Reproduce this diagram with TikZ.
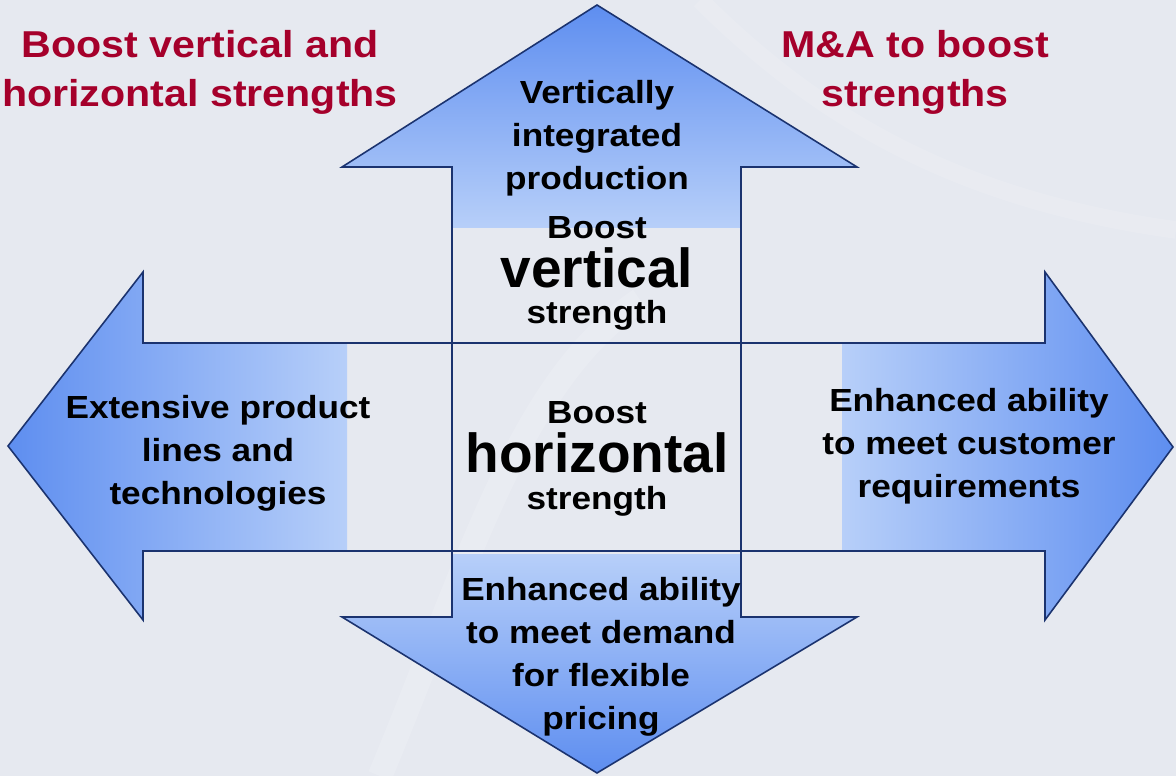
\documentclass[tikz,border=0pt]{standalone}
\usepackage{fontspec}
\setmainfont{Liberation Sans}
\newfontfamily\widefont[FakeStretch=1.1]{Liberation Sans}
\usetikzlibrary{positioning}
\definecolor{PaleSky}{HTML}{E6E9F0}
\definecolor{ArrowBlue}{HTML}{5E8EF0}
\definecolor{ArrowPale}{HTML}{B7CFF9}
\definecolor{EdgeNavy}{HTML}{1B336F}
\definecolor{Crimson}{HTML}{A5002B}

\begin{document}
\begin{tikzpicture}[x=0.02cm, y=-0.02cm,
    edge/.style={draw=EdgeNavy, line width=0.9pt, line join=miter},
    body/.style={font=\widefont\fontsize{18.2}{24.5}\selectfont\bfseries,
                 align=center, inner sep=0pt},
    big/.style={font=\fontsize{31.3}{34}\selectfont\bfseries, inner sep=0pt, anchor=base},
    small/.style={font=\widefont\fontsize{18.2}{24.5}\selectfont\bfseries, inner sep=0pt, anchor=base},
    title/.style={font=\widefont\fontsize{21.3}{27.9}\selectfont\bfseries,
                  align=center, text=Crimson, inner sep=0pt}
]
    % Backdrop
    \fill[PaleSky] (0,0) rectangle (1176,776);
    \useasboundingbox (0,0) rectangle (1176,776);
    \draw[white, opacity=0.15, line width=14pt]
        (380,776) .. controls (470,560) and (520,380) .. (640,300);
    \draw[white, opacity=0.12, line width=10pt]
        (700,0) .. controls (820,120) and (960,200) .. (1176,230);

    % Faded fills of the four arrows
    \begin{scope}
        \clip (597,5) -- (857,167) -- (741,167) -- (741,551) -- (452,551)
              -- (452,167) -- (342,167) -- cycle;
        \shade[top color=ArrowBlue, bottom color=ArrowPale] (342,5) rectangle (857,228);
    \end{scope}
    \begin{scope}
        \clip (8,446) -- (143,272) -- (143,343) -- (741,343) -- (741,551)
              -- (143,551) -- (143,620) -- cycle;
        \shade[left color=ArrowBlue, right color=ArrowPale] (8,272) rectangle (347,620);
    \end{scope}
    \begin{scope}
        \clip (1173,447) -- (1045,272) -- (1045,343) -- (452,343) -- (452,551)
              -- (1045,551) -- (1045,620) -- cycle;
        \shade[left color=ArrowPale, right color=ArrowBlue] (842,272) rectangle (1173,620);
    \end{scope}
    \begin{scope}
        \clip (597,773) -- (857,617) -- (741,617) -- (741,343) -- (452,343)
              -- (452,617) -- (342,617) -- cycle;
        \shade[top color=ArrowPale, bottom color=ArrowBlue] (342,554) rectangle (857,773);
    \end{scope}

    % Arrow outlines
    \draw[edge] (597,5) -- (857,167) -- (741,167) -- (741,551) -- (452,551)
        -- (452,167) -- (342,167) -- cycle;
    \draw[edge] (8,446) -- (143,272) -- (143,343) -- (741,343) -- (741,551)
        -- (143,551) -- (143,620) -- cycle;
    \draw[edge] (1173,447) -- (1045,272) -- (1045,343) -- (452,343) -- (452,551)
        -- (1045,551) -- (1045,620) -- cycle;
    \draw[edge] (597,773) -- (857,617) -- (741,617) -- (741,343) -- (452,343)
        -- (452,617) -- (342,617) -- cycle;

    % Headings
    \node[title] (lefthead) at (200,72) {Boost vertical and\\horizontal strengths};
    \node[title] (righthead) at (915,72) {M\&A to boost\\strengths};

    % Arrow texts
    \node[body] (uptext) at (597,138) {Vertically\\integrated\\production};
    \node[body] (lefttext) at (218,453) {Extensive product\\lines and\\technologies};
    \node[body] (righttext) at (969,446) {Enhanced ability\\to meet customer\\requirements};
    \node[body] (downtext) at (601,657) {Enhanced ability\\to meet demand\\for flexible\\pricing};

    % Centre
    \node[small] (vboost) at (597,239) {Boost};
    \node[big] (vword) at (597,288) {vertical};
    \node[small] (vstrength) at (597,324) {strength};
    \node[small] (hboost) at (597,424) {Boost};
    \node[big] (hword) at (597,473) {horizontal};
    \node[small] (hstrength) at (597,509) {strength};
\end{tikzpicture}
\end{document}
